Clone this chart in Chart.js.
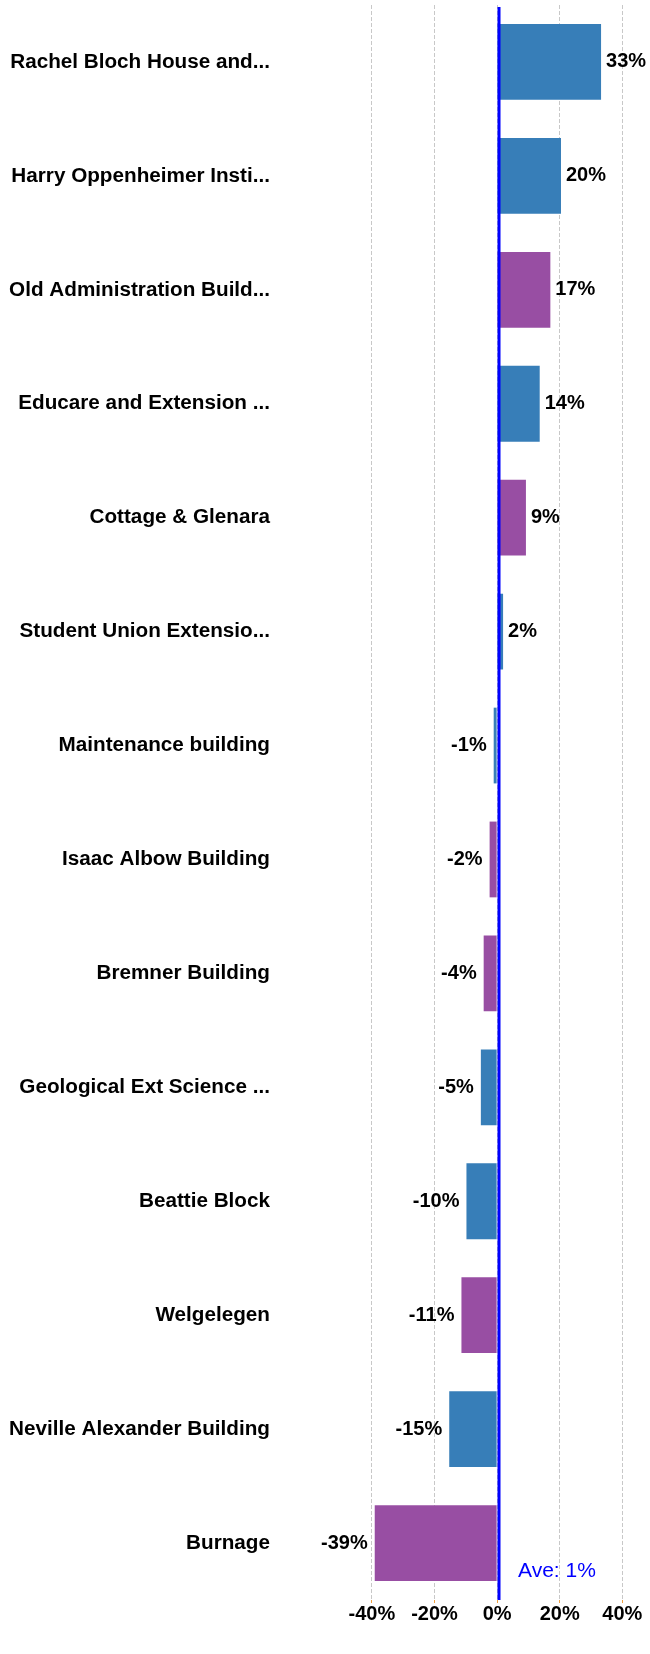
<!DOCTYPE html>
<html>
<head>
<meta charset="utf-8">
<script src="https://cdn.jsdelivr.net/npm/chart.js@4/dist/chart.umd.min.js"></script>
<style>
  html, body { margin: 0; padding: 0; background: #ffffff; }
  #wrap { width: 650px; height: 1654px; }
</style>
</head>
<body>
<div id="wrap"><canvas id="c" width="650" height="1654"></canvas></div>
<script>
const categories = [
  "Rachel Bloch House and...",
  "Harry Oppenheimer Insti...",
  "Old Administration Build...",
  "Educare and Extension ...",
  "Cottage & Glenara",
  "Student Union Extensio...",
  "Maintenance building",
  "Isaac Albow Building",
  "Bremner Building",
  "Geological Ext Science ...",
  "Beattie Block",
  "Welgelegen",
  "Neville Alexander Building",
  "Burnage"
];
const values = [33.2, 20.4, 17.0, 13.6, 9.2, 1.9, -1.1, -2.4, -4.3, -5.2, -9.8, -11.4, -15.3, -39.1];
const groups = ["b", "b", "p", "b", "p", "b", "b", "p", "p", "b", "b", "p", "b", "p"];
const groupColors = { b: "#377eb8", p: "#984ea3" };
const tickValues = [-40, -20, 0, 20, 40];
const averageValue = 0.6;
const averageLabel = "Ave: 1%";

Chart.defaults.font.family = "'Liberation Sans', Arial, sans-serif";

const overlayPlugin = {
  id: "overlay",
  afterDatasetsDraw(chart) {
    const ctx = chart.ctx;
    const xs = chart.scales.x;
    const area = chart.chartArea;
    const meta = chart.getDatasetMeta(0);
    ctx.save();
    // average line
    const ax = xs.getPixelForValue(averageValue);
    ctx.strokeStyle = "#0000ff";
    ctx.lineWidth = 3;
    ctx.beginPath();
    ctx.moveTo(ax, area.top + 2);
    ctx.lineTo(ax, area.bottom);
    ctx.stroke();
    // data labels
    ctx.font = "bold 20px 'Liberation Sans', Arial, sans-serif";
    ctx.fillStyle = "#000000";
    ctx.textBaseline = "middle";
    meta.data.forEach((bar, i) => {
      const v = values[i];
      const txt = Math.round(v) + "%";
      if (v >= 0) {
        ctx.textAlign = "left";
        ctx.fillText(txt, bar.x + 5, bar.y);
      } else {
        ctx.textAlign = "right";
        ctx.fillText(txt, bar.x - 7, bar.y);
      }
    });
    // average label
    ctx.font = "21px 'Liberation Sans', Arial, sans-serif";
    ctx.fillStyle = "#0000ff";
    ctx.textAlign = "left";
    ctx.fillText(averageLabel, ax + 19, area.bottom - 29);
    ctx.restore();
  }
};

new Chart(document.getElementById("c"), {
  type: "bar",
  data: {
    labels: categories,
    datasets: [{
      data: values,
      backgroundColor: groups.map(g => groupColors[g]),
      borderWidth: 0,
      categoryPercentage: 1,
      barPercentage: 0.665
    }]
  },
  options: {
    indexAxis: "y",
    responsive: false,
    animation: false,
    devicePixelRatio: 1,
    layout: { padding: { top: 5, bottom: 29, left: 0, right: 12 } },
    plugins: { legend: { display: false }, tooltip: { enabled: false } },
    scales: {
      x: {
        min: -70,
        max: 45,
        afterBuildTicks(scale) { scale.ticks = tickValues.map(v => ({ value: v })); },
        grid: {
          color: "#c8c8c8",
          lineWidth: 1,
          drawTicks: true,
          tickLength: 3,
          tickColor: "#f0a040"
        },
        border: { display: false, dash: [4, 2] },
        ticks: {
          padding: -1,
          color: "#000000",
          font: { size: 20, weight: "bold" },
          callback: v => v + "%"
        }
      },
      y: {
        grid: { display: false, drawTicks: false },
        border: { display: false },
        afterFit(scale) {
          scale.width = 278;
          scale.paddingTop = 0;
          scale.paddingBottom = 0;
        },
        ticks: {
          padding: 8,
          color: "#000000",
          font: { size: 20.7, weight: "bold" }
        }
      }
    }
  },
  plugins: [overlayPlugin]
});
</script>
</body>
</html>
